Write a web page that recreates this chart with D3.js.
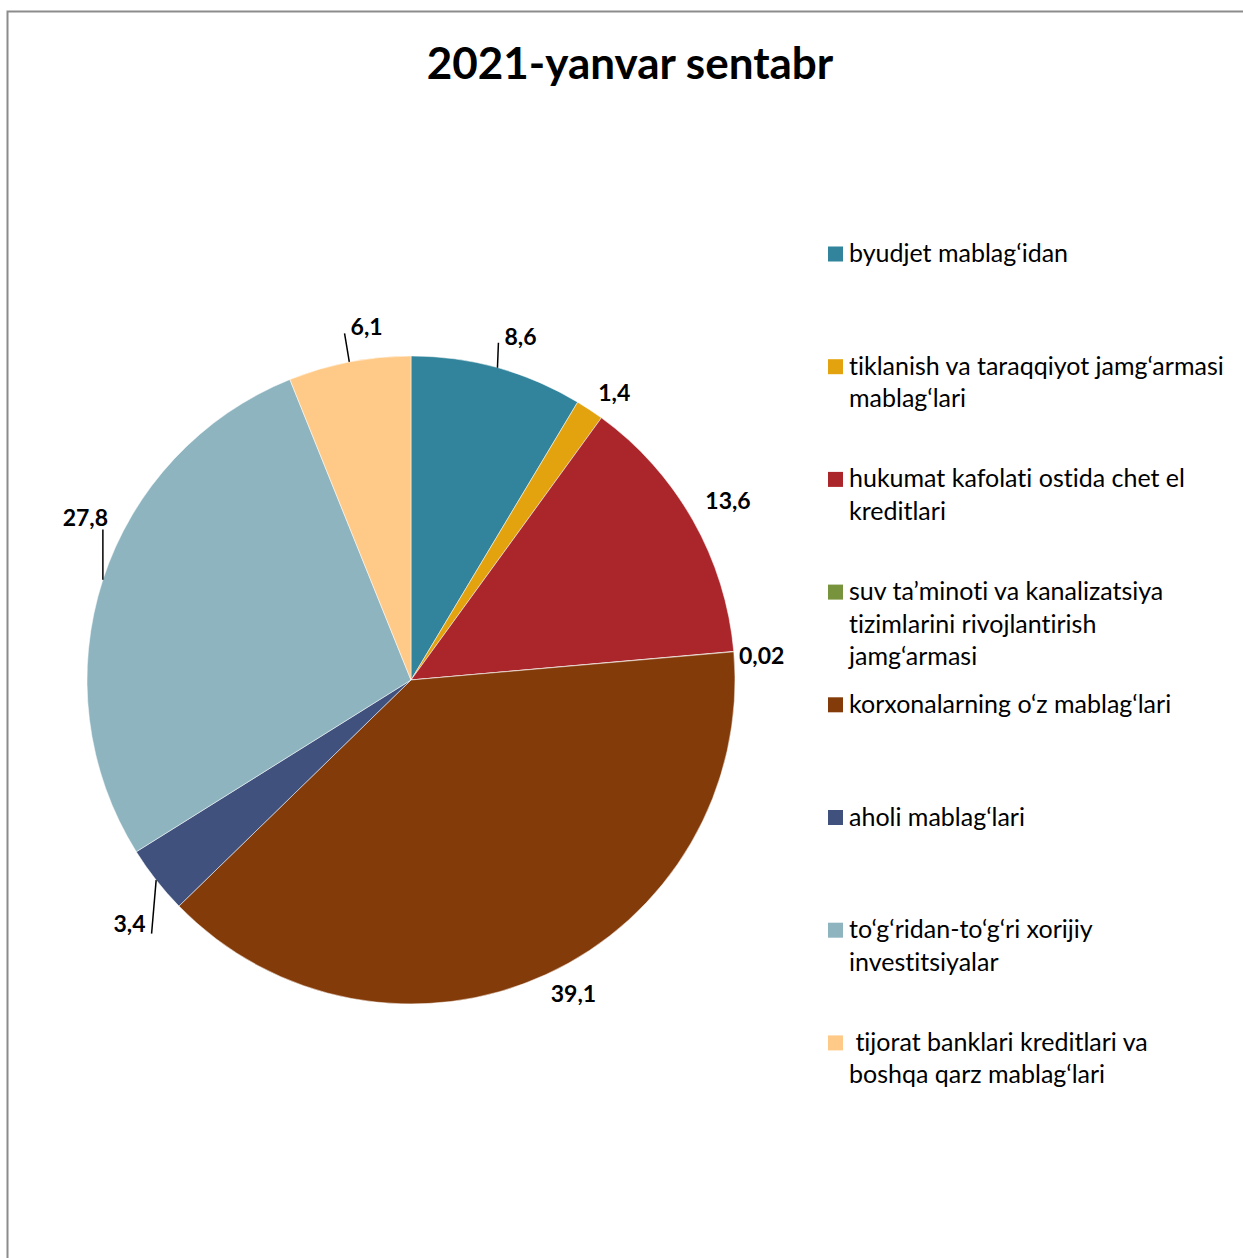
<!DOCTYPE html>
<html>
<head>
<meta charset="utf-8">
<script src="https://cdn.jsdelivr.net/npm/d3@7"></script>
<style>
body { margin: 0; background: #fff; }
text { font-family: "Lato", "Noto Sans", sans-serif; font-variant-ligatures: none; }
</style>
</head>
<body>
<script>
// chart data
var categories = [
  "byudjet mablag‘idan",
  "tiklanish va taraqqiyot jamg‘armasi\nmablag‘lari",
  "hukumat kafolati ostida chet el\nkreditlari",
  "suv ta’minoti va kanalizatsiya\ntizimlarini rivojlantirish\njamg‘armasi",
  "korxonalarning o‘z mablag‘lari",
  "aholi mablag‘lari",
  "to‘g‘ridan-to‘g‘ri xorijiy\ninvestitsiyalar",
  " tijorat banklari kreditlari va\nboshqa qarz mablag‘lari"
];
var values = [8.6, 1.4, 13.6, 0.02, 39.1, 3.4, 27.8, 6.1];
var valueLabels = ["8,6", "1,4", "13,6", "0,02", "39,1", "3,4", "27,8", "6,1"];
var colors = ["#31849B", "#E3A30E", "#AB262A", "#77933C", "#843B0A", "#3F517C", "#8EB4C0", "#FFCA88"];

var width = 1243;
var height = 1258;

var svg = d3.select("body").append("svg")
    .attr("width", width)
    .attr("height", height);

// frame
svg.append("rect")
    .attr("x", 7.5)
    .attr("y", 11.5)
    .attr("width", width + 20)
    .attr("height", height + 20)
    .attr("fill", "none")
    .attr("stroke", "#8c8c8c")
    .attr("stroke-width", 2);

svg.append("text")
    .text("2021-yanvar sentabr")
    .attr("x", 630)
    .attr("y", 79)
    .attr("text-anchor", "middle")
    .style("font-size", "44px")
    .style("font-weight", "bold")
    .attr("fill", "#000");

/*** Pie ***/
var cx = 411, cy = 680, radius = 324;

var pie = d3.pie().sort(null).value(function(d) { return d; });
var arcs = pie(values);
var arc = d3.arc().innerRadius(0).outerRadius(radius);

var g = svg.append("g").attr("transform", "translate(" + cx + "," + cy + ")");

g.selectAll("path.slice")
    .data(arcs)
    .enter().append("path")
    .attr("class", "slice")
    .attr("d", arc)
    .attr("fill", function(d, i) { return colors[i]; })
    .attr("stroke", "#fff")
    .attr("stroke-width", 0.5);

// label nudges (layout only), relative to the default outside position
var labelShift = [[15, -3], [8, 7], [9, -6], [-2, 6], [15, -9], [-3, 24], [11, -54], [23, -6]];

function polar(a, r) { return [Math.sin(a) * r, -Math.cos(a) * r]; }

arcs.forEach(function(d, i) {
  var mid = (d.startAngle + d.endAngle) / 2;
  var p = polar(mid, radius + 30);
  var lx = p[0] + labelShift[i][0];
  var ly = p[1] + labelShift[i][1];

  var t = g.append("text")
      .text(valueLabels[i])
      .attr("x", lx)
      .attr("y", ly)
      .attr("text-anchor", "middle")
      .attr("dominant-baseline", "central")
      .style("font-size", "23px")
      .style("font-weight", "bold")
      .attr("fill", "#000");

  var bb = t.node().getBBox();
  var a0 = polar(mid, radius);

  // only draw a leader when the label sits away from its slice
  var nx = Math.max(bb.x, Math.min(a0[0], bb.x + bb.width));
  var ny = Math.max(bb.y, Math.min(a0[1], bb.y + bb.height));
  if (Math.hypot(nx - a0[0], ny - a0[1]) <= 18) return;

  var visBottom = bb.y + bb.height - 5;
  var ex, ey;
  if (a0[0] >= bb.x && a0[0] <= bb.x + bb.width) {
    ex = a0[0];
    ey = visBottom + 4;
  } else {
    ex = a0[0] < bb.x ? bb.x - 6 : bb.x + bb.width + 6;
    ey = a0[1] > visBottom ? visBottom - 2 : visBottom + 2;
  }
  g.append("line")
      .attr("x1", a0[0]).attr("y1", a0[1])
      .attr("x2", ex).attr("y2", ey)
      .attr("stroke", "#000")
      .attr("stroke-width", 1.5);
});

/*** Legend ***/
var legendX = 828, legendY = 254, legendStep = 112.7, lineH = 32.5;

categories.forEach(function(c, i) {
  var y = legendY + i * legendStep;
  svg.append("rect")
      .attr("x", legendX)
      .attr("y", y - 7.5)
      .attr("width", 15)
      .attr("height", 15)
      .attr("fill", colors[i]);
  var t = svg.append("text")
      .attr("x", legendX + 21)
      .attr("y", y + 8)
      .attr("xml:space", "preserve")
      .style("white-space", "pre")
      .style("font-size", "25px")
      .attr("fill", "#000");
  c.split("\n").forEach(function(line, k) {
    t.append("tspan")
        .attr("x", legendX + 21)
        .attr("y", y + 8 + k * lineH)
        .text(line);
  });
});
</script>
</body>
</html>
